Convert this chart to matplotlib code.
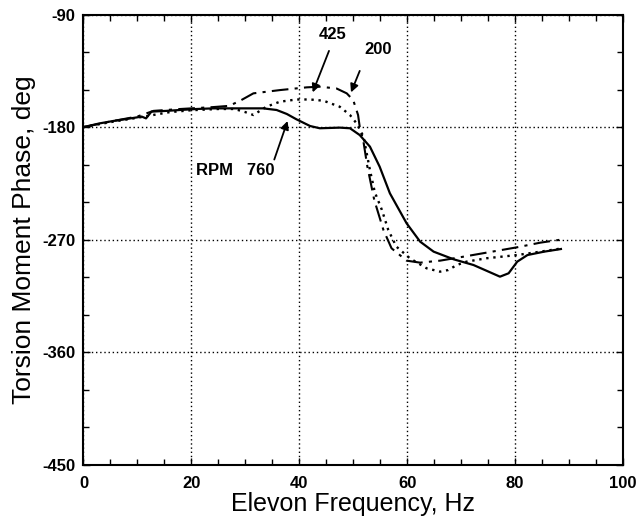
import matplotlib
matplotlib.use("Agg")
import matplotlib.pyplot as plt
from matplotlib.ticker import MultipleLocator

plt.rcParams['font.family'] = ['Liberation Sans', 'DejaVu Sans']
plt.rcParams['font.weight'] = 'bold'
plt.rcParams['axes.unicode_minus'] = False

# RPM 760 (solid)
f760 = [0, 3, 5.5, 8, 10.8, 11.6, 12.6, 15.4, 17.9, 21, 24.1, 27.1, 30.2, 33.3, 35.8,
        37.7, 39.5, 42.0, 43.8, 47.5, 49.4, 51.2, 53.1, 54.9, 56.8, 59.9, 62.4,
        64.9, 68.6, 72.3, 77.2, 78.8, 80.4, 82.3, 85.4, 88.5]
p760 = [-180, -177, -175.1, -173.5, -171.6, -173, -167.6, -167, -166.3, -165.5, -165.0,
        -165.0, -165.0, -165.0, -166.3, -169.5, -173.8, -179.1, -180.9, -180.4,
        -180.9, -186.3, -195.6, -211.6, -232.9, -256.9, -271.5, -279.5, -285.6,
        -290.2, -299.5, -296.8, -287.5, -282.2, -279.5, -277.4]

# RPM 425 (dotted)
f425 = [0, 5, 10, 12, 16, 20, 25, 28, 30, 31.5, 33.9, 36.4, 39.5, 42.0, 44.5, 47.5,
        49.4, 50.6, 51.9, 53.1, 54.0, 55.3, 56.5, 58.0, 60.5, 63.6, 66.1, 67.6,
        69.2, 71.0, 74.7, 80.4, 84.7, 88.5]
p425 = [-180, -176, -172.5, -171, -168, -166.5, -165.5, -165.5, -168, -170.3, -163.7,
        -159.7, -157.9, -157.9, -158.9, -163.7, -170.3, -176.9, -187.5, -214.3,
        -232, -246, -262.2, -275.5, -284.8, -292.8, -295.5, -294.2, -290.2, -287.5,
        -284.8, -282.2, -279.5, -277.0]

# RPM 200 (dash-dot)
f200 = [0, 5, 10, 13, 18, 24, 27, 29, 31.5, 36.4, 41.4, 43.8, 46.9, 48.8, 50.0,
        50.9, 51.2, 51.9, 52.6, 53.9, 55.6, 57.1, 59.9, 62.4, 66.1, 69.8, 74.7,
        80.4, 84.7, 89.0]
p200 = [-180, -175.5, -171.5, -167, -165.5, -164, -163, -159, -153.0, -150.4, -148.2,
        -147.7, -149.1, -153.0, -158.4, -170.3, -179.6, -191.6, -211, -238.2,
        -262.2, -276.8, -286.7, -288.3, -286.7, -284.0, -280.3, -276.0, -272.3,
        -269.6]

xticks = [0, 20, 40, 60, 80, 100]
yticks = [-90, -180, -270, -360, -450]

fig = plt.figure(figsize=(6.37, 5.22), dpi=100)
ax = fig.add_axes([0.131, 0.1092, 0.847, 0.863])

ax.plot(f760, p760, color='black', lw=1.6, ls='-')
ax.plot(f425, p425, color='black', lw=1.7, ls=(0, (1, 2)))
ax.plot(f200, p200, color='black', lw=1.5, ls=(0, (8, 3, 1.5, 3)))

ax.set_xlim(0, 100)
ax.set_ylim(-450, -90)
ax.set_xticks(xticks)
ax.set_xticklabels([str(v) for v in xticks])
ax.set_yticks(yticks)
ax.set_yticklabels([str(v) for v in yticks])
ax.xaxis.set_minor_locator(MultipleLocator(5))
ax.yaxis.set_minor_locator(MultipleLocator(30))
ax.tick_params(which='both', direction='in', top=True, right=True,
               labelsize=12, width=1.0)
ax.tick_params(which='major', length=5)
ax.tick_params(axis='x', which='major', pad=8)
ax.tick_params(axis='y', which='major', pad=6)
ax.tick_params(which='minor', length=4)
for s in ax.spines.values():
    s.set_linewidth(1.5)

ax.grid(True, which='major', color='black', ls=(0, (1, 2)), lw=1.0)

ax.set_xlabel('Elevon Frequency, Hz', fontsize=18, fontweight='normal', labelpad=1)
ax.set_ylabel('Torsion Moment Phase, deg', fontsize=19, fontweight='normal', labelpad=4)

arrow = dict(arrowstyle='-|>', color='black', lw=1.3, mutation_scale=12)
ax.annotate('', xy=(42.3, -154.3), xytext=(45.7, -117), arrowprops=arrow)
ax.text(46.1, -106, '425', fontsize=12, ha='center', va='center')
ax.annotate('', xy=(49.4, -154.3), xytext=(51.4, -133), arrowprops=arrow)
ax.text(54.6, -118, '200', fontsize=12, ha='center', va='center')
ax.annotate('', xy=(38.0, -173), xytext=(35.2, -208), arrowprops=arrow)
ax.text(28.1, -215, 'RPM   760', fontsize=12, ha='center', va='center')

fig.savefig('out.png', dpi=100)
